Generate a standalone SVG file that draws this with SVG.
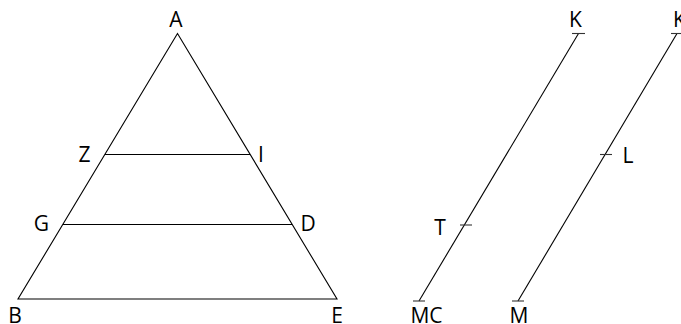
<svg xmlns="http://www.w3.org/2000/svg" width="681" height="324" viewBox="0 0 681 324">
<style>
.ln{stroke:#000;stroke-width:1.1;fill:none}
.tk{stroke:#333;stroke-width:1.1;fill:none}
text{font-family:"Open Sans","Noto Sans",sans-serif;font-size:21px;fill:#000;text-anchor:middle}
</style>
<rect width="681" height="324" fill="#fff"/>
<g id="connectors">
<polygon class="ln" points="177.5,33.5 18,299 337,299"/>
<line class="ln" x1="105" y1="154.5" x2="250" y2="154.5"/>
<line class="ln" x1="63" y1="224.5" x2="292" y2="224.5"/>
<line class="ln" x1="419" y1="301" x2="578.5" y2="33.5"/>
<line class="ln" x1="518" y1="301" x2="677" y2="33.5"/>
<line class="tk" x1="572" y1="33.5" x2="585" y2="33.5"/>
<line class="tk" x1="671" y1="33.5" x2="683" y2="33.5"/>
<line class="tk" x1="413" y1="301" x2="425" y2="301"/>
<line class="tk" x1="512" y1="301" x2="524" y2="301"/>
<line class="tk" x1="460" y1="225" x2="472" y2="225"/>
<line class="tk" x1="600" y1="154.5" x2="612" y2="154.5"/>
</g>
<g id="A"><text x="176" y="27">A</text></g>
<g id="Z"><text x="84.5" y="162">Z</text></g>
<g id="I"><text x="261" y="162">I</text></g>
<g id="G"><text x="41.5" y="231">G</text></g>
<g id="D"><text x="308" y="231">D</text></g>
<g id="B"><text x="15" y="323">B</text></g>
<g id="E"><text x="337" y="323">E</text></g>
<g id="MC"><text x="426.5" y="323">MC</text></g>
<g id="M"><text x="519" y="323">M</text></g>
<g id="K1"><text x="575.5" y="27">K</text></g>
<g id="K2"><text x="679.5" y="27">K</text></g>
<g id="T"><text x="440" y="235">T</text></g>
<g id="L"><text x="628" y="163">L</text></g>
</svg>
